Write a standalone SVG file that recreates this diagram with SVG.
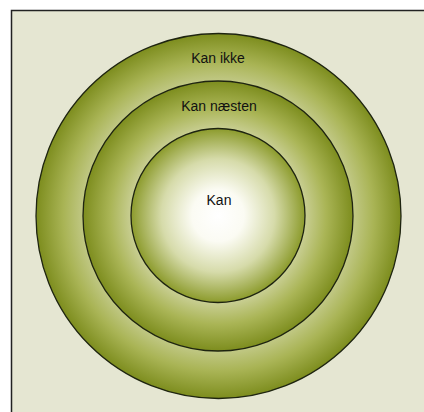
<svg xmlns="http://www.w3.org/2000/svg" width="424" height="412" viewBox="0 0 424 412">
<defs>
<radialGradient id="gOuter" cx="0.5" cy="0.5" r="0.5">
<stop offset="0.7" stop-color="#c9cf96"/>
<stop offset="0.85" stop-color="#a9b455"/>
<stop offset="1" stop-color="#7d8d1e"/>
</radialGradient>
<radialGradient id="gMid" cx="0.5" cy="0.5" r="0.5">
<stop offset="0.62" stop-color="#cdd29c"/>
<stop offset="0.8" stop-color="#aab556"/>
<stop offset="1" stop-color="#7d8d1e"/>
</radialGradient>
<radialGradient id="gInner" cx="0.5" cy="0.5" r="0.5">
<stop offset="0" stop-color="#ffffff"/>
<stop offset="0.3" stop-color="#fbfbf3"/>
<stop offset="0.65" stop-color="#d6dbaa"/>
<stop offset="1" stop-color="#8c9b2c"/>
</radialGradient>
<style>
.ring{stroke:#1e2410;stroke-width:1.3}
.lbl{font-family:"Liberation Sans",Arial,sans-serif;font-size:14px;fill:#111;text-anchor:middle}
</style>
</defs>
<rect x="0" y="0" width="424" height="412" fill="#ffffff"/>
<rect x="12" y="11" width="412" height="401" fill="#e5e6d2"/>
<path d="M11.5 412 V10.5 H424" fill="none" stroke="#222" stroke-width="1.5"/>
<g id="outer">
<circle class="ring" cx="218.5" cy="216" r="182.5" fill="url(#gOuter)"/>
<text class="lbl" x="218" y="63">Kan ikke</text>
</g>
<g id="middle">
<circle class="ring" cx="218" cy="216" r="135" fill="url(#gMid)"/>
<text class="lbl" x="219" y="111">Kan næsten</text>
</g>
<g id="inner">
<circle class="ring" cx="218" cy="215.5" r="87" fill="url(#gInner)"/>
<text class="lbl" x="219" y="205">Kan</text>
</g>
<g id="connectors"/>
</svg>
